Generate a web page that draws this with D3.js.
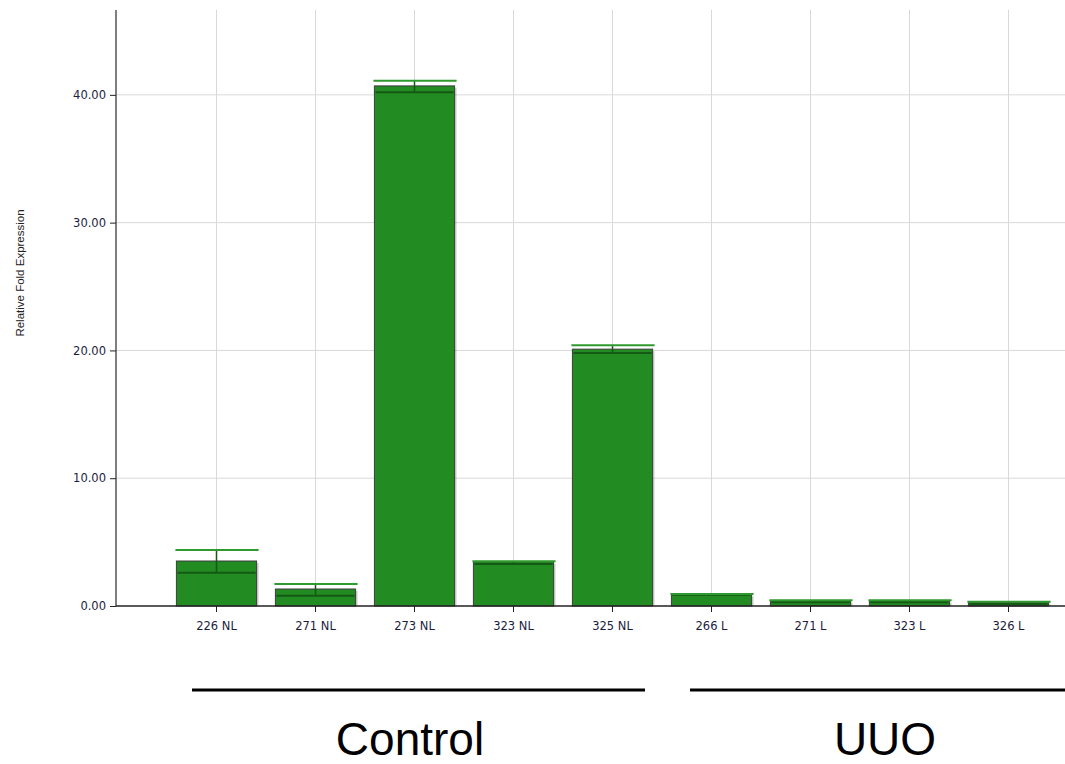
<!DOCTYPE html>
<html>
<head>
<meta charset="utf-8">
<script src="https://cdn.jsdelivr.net/npm/d3@7"></script>
<style>
  body { margin: 0; background: #fff; }
  svg { display: block; }
</style>
</head>
<body>
<div id="chart"></div>
<script>
// sample names on the x axis
var samples = ["226 NL", "271 NL", "273 NL", "323 NL", "325 NL", "266 L", "271 L", "323 L", "326 L"];
// relative fold expression (bar height)
var values = [3.52, 1.33, 40.7, 3.47, 20.1, 0.91, 0.41, 0.41, 0.29];
// error bar lower / upper ends
var errLow = [2.6, 0.81, 40.2, 3.29, 19.8, 0.88, 0.29, 0.29, 0.16];
var errHigh = [4.38, 1.72, 41.1, 3.5, 20.4, 0.94, 0.45, 0.45, 0.33];
// y ticks
var yTicks = [0, 10, 20, 30, 40];
// groups under the chart
var groupNames = ["Control", "UUO"];

var svgWidth = 1065, svgHeight = 764;

var svg = d3.select("#chart").append("svg")
    .attr("width", svgWidth)
    .attr("height", svgHeight);

// plot area
var plotLeft = 116, plotRight = 1065, plotTop = 10, plotBottom = 606;

var x = d3.scaleBand()
    .domain(samples)
    .range([167, 1058])
    .paddingInner(0.19)
    .paddingOuter(0.095);

var y = d3.scaleLinear()
    .domain([0, 46.64])
    .range([plotBottom, plotTop]);

var fontTick = "'DejaVu Sans', sans-serif";

// gridlines
svg.append("g").selectAll("line")
    .data(yTicks.filter(d => d > 0))
    .enter().append("line")
    .attr("x1", plotLeft).attr("x2", plotRight)
    .attr("y1", d => y(d)).attr("y2", d => y(d))
    .attr("stroke", "#d9d9d9").attr("stroke-width", 1);

svg.append("g").selectAll("line")
    .data(samples)
    .enter().append("line")
    .attr("x1", d => x(d) + x.bandwidth() / 2).attr("x2", d => x(d) + x.bandwidth() / 2)
    .attr("y1", plotTop).attr("y2", plotBottom)
    .attr("stroke", "#d9d9d9").attr("stroke-width", 1);

// bars
var bars = svg.append("g");
bars.selectAll("rect.shadow")
    .data(samples)
    .enter().append("rect")
    .attr("class", "shadow")
    .attr("x", d => x(d) + 2)
    .attr("y", (d, i) => y(values[i]) + 2)
    .attr("width", x.bandwidth())
    .attr("height", (d, i) => plotBottom - y(values[i]) - 2)
    .attr("fill", "#000").attr("opacity", 0.18);

bars.selectAll("rect.bar")
    .data(samples)
    .enter().append("rect")
    .attr("class", "bar")
    .attr("x", d => x(d))
    .attr("y", (d, i) => y(values[i]))
    .attr("width", x.bandwidth())
    .attr("height", (d, i) => plotBottom - y(values[i]))
    .attr("fill", "#228b22")
    .attr("stroke", "#3c3c3c").attr("stroke-width", 1);

// error bars
var err = svg.append("g");
samples.forEach(function(s, i) {
    var cx = x(s) + x.bandwidth() / 2;
    err.append("line")
        .attr("x1", x(s) + 1).attr("x2", x(s) + x.bandwidth() - 1)
        .attr("y1", y(errLow[i])).attr("y2", y(errLow[i]))
        .attr("stroke", "#145a14").attr("stroke-width", 2);
    err.append("line")
        .attr("x1", cx).attr("x2", cx)
        .attr("y1", y(errLow[i])).attr("y2", y(errHigh[i]))
        .attr("stroke", "#145a14").attr("stroke-width", 1.5);
    err.append("line")
        .attr("x1", x(s) - 1).attr("x2", x(s) + x.bandwidth() + 2)
        .attr("y1", y(errHigh[i])).attr("y2", y(errHigh[i]))
        .attr("stroke", "#2f9a2f").attr("stroke-width", 2);
});

// axes
var yAxis = svg.append("g")
    .attr("transform", `translate(${plotLeft},0)`)
    .call(d3.axisLeft(y).tickValues(yTicks).tickFormat(d3.format(".2f")).tickSize(6).tickPadding(4));
yAxis.select(".domain").attr("d", `M0,${plotTop}V${plotBottom}`).attr("stroke", "#555").attr("stroke-width", 1.5);
yAxis.selectAll(".tick line").attr("stroke", "#222");
yAxis.selectAll(".tick text")
    .attr("font-family", fontTick).attr("font-size", "11.5px").attr("fill", "#1c1c40");

var xAxis = svg.append("g")
    .attr("transform", `translate(0,${plotBottom})`)
    .call(d3.axisBottom(x).tickSize(6).tickPadding(10));
xAxis.select(".domain").attr("d", `M${plotLeft},0H${plotRight}`).attr("stroke", "#222").attr("stroke-width", 1.5);
xAxis.selectAll(".tick line").attr("stroke", "#222");
xAxis.selectAll(".tick text")
    .attr("font-family", fontTick).attr("font-size", "11.5px").attr("fill", "#1c1c40");

// y axis title
svg.append("text")
    .attr("transform", "translate(24,273) rotate(-90)")
    .attr("text-anchor", "middle")
    .attr("font-family", "'Liberation Sans', Arial, sans-serif")
    .attr("font-size", "11.5px")
    .attr("fill", "#222")
    .text("Relative Fold Expression");

// group lines and labels
var groupLines = [[192, 645], [690, 1065]];
var groupCenters = [410, 885];
groupNames.forEach(function(g, i) {
    svg.append("line")
        .attr("x1", groupLines[i][0]).attr("x2", groupLines[i][1])
        .attr("y1", 690).attr("y2", 690)
        .attr("stroke", "#000").attr("stroke-width", 3);
    svg.append("text")
        .attr("x", groupCenters[i]).attr("y", 755)
        .attr("text-anchor", "middle")
        .attr("font-family", "'Liberation Sans', Arial, sans-serif")
        .attr("font-size", "46px")
        .attr("fill", "#000")
        .text(g);
});
</script>
</body>
</html>
